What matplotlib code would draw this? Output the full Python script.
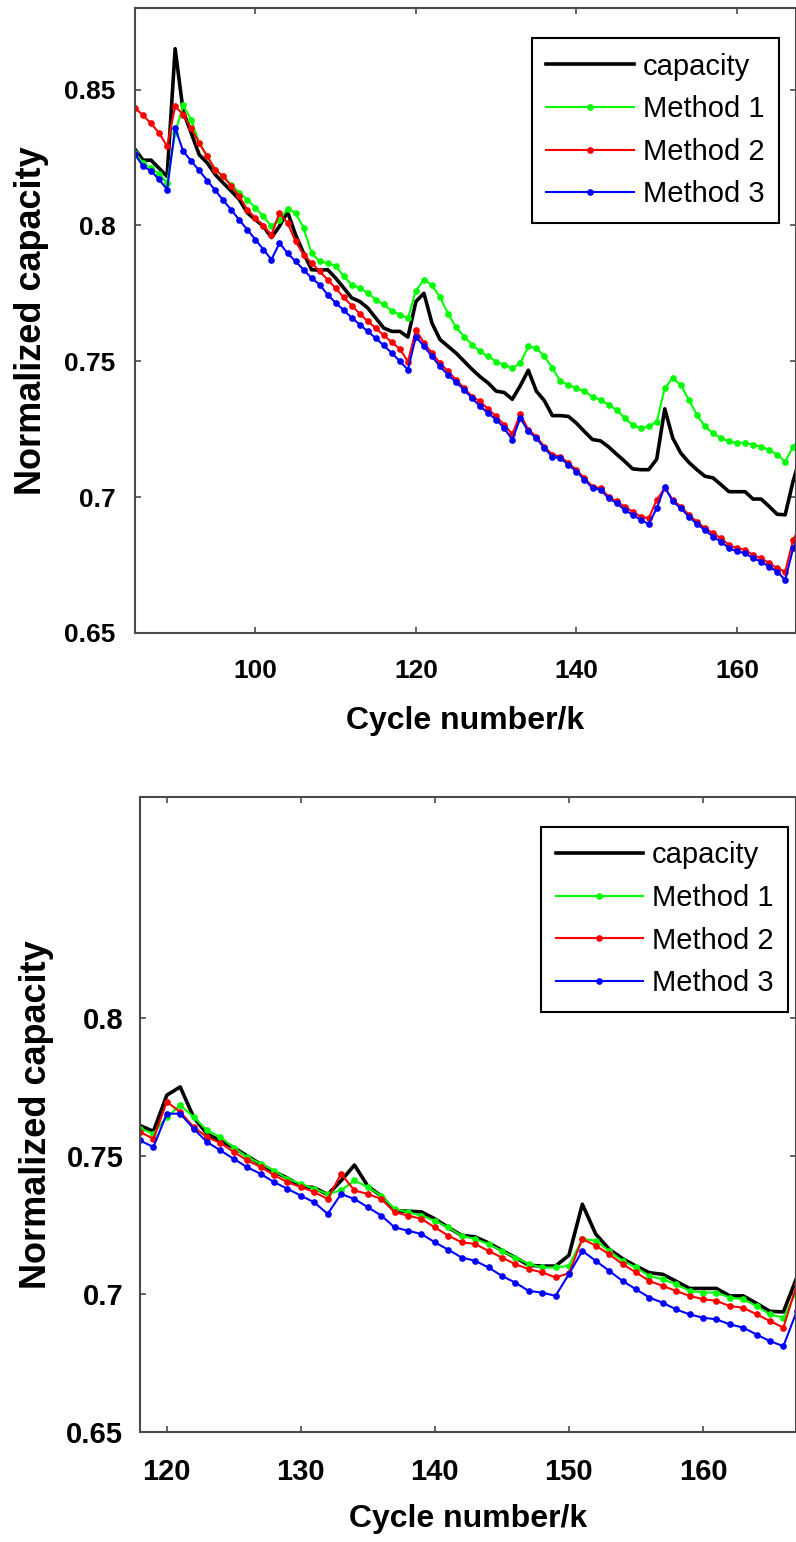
import numpy as np
import matplotlib
matplotlib.use('Agg')
import matplotlib.pyplot as plt
from matplotlib.ticker import FuncFormatter

plt.rcParams['font.family'] = ['Liberation Sans', 'DejaVu Sans']

# cycles 85..168, one point per cycle
cycles = np.arange(85, 169)

capacity = [0.828, 0.824, 0.824, 0.821, 0.818, 0.865, 0.842, 0.834, 0.826, 0.823,
            0.8187, 0.8156, 0.8126, 0.8095, 0.8046, 0.8021, 0.7997, 0.7955, 0.7997, 0.805,
            0.7966, 0.7898, 0.7837, 0.7835, 0.7837, 0.7806, 0.777, 0.7733, 0.772, 0.7696,
            0.7659, 0.7622, 0.761, 0.761, 0.7589, 0.772, 0.775, 0.764, 0.758, 0.7555,
            0.753, 0.750, 0.747, 0.7443, 0.742, 0.739, 0.7385, 0.736, 0.741, 0.7467,
            0.739, 0.7355, 0.730, 0.730, 0.7297, 0.7272, 0.7241, 0.7212, 0.7207, 0.7185,
            0.7158, 0.7132, 0.7104, 0.7101, 0.7101, 0.714, 0.7325, 0.7217, 0.7162, 0.7128,
            0.7101, 0.7077, 0.7071, 0.7046, 0.702, 0.702, 0.702, 0.6993, 0.6993, 0.6966,
            0.6937, 0.6935, 0.706, 0.716]

method1_a = [0.8267, 0.823, 0.821, 0.819, 0.8156, 0.834, 0.8442, 0.8389, 0.8303, 0.8254,
             0.8205, 0.818, 0.815, 0.812, 0.8095, 0.8064, 0.8033, 0.7997, 0.8021, 0.806,
             0.8046, 0.7991, 0.7898, 0.7868, 0.7862, 0.785, 0.7813, 0.7782, 0.777, 0.7751,
             0.7727, 0.7709, 0.7684, 0.7672, 0.7659, 0.776, 0.780, 0.778, 0.7735, 0.7675,
             0.7625, 0.7591, 0.7561, 0.7536, 0.7518, 0.7499, 0.7487, 0.7475, 0.7493, 0.7555,
             0.7548, 0.7518, 0.7475, 0.7426, 0.7413, 0.7401, 0.7389, 0.737, 0.7358, 0.734,
             0.7321, 0.7291, 0.7266, 0.7254, 0.726, 0.7278, 0.7401, 0.7438, 0.7413, 0.7358,
             0.7303, 0.726, 0.7235, 0.7217, 0.7205, 0.7199, 0.7201, 0.7192, 0.7186, 0.7174,
             0.7156, 0.7131, 0.7186, 0.722]

method2_a = [0.8432, 0.8405, 0.8375, 0.834, 0.8291, 0.8438, 0.8408, 0.8358, 0.8303, 0.8254,
             0.8205, 0.818, 0.8144, 0.8107, 0.8058, 0.8027, 0.7997, 0.7966, 0.8046, 0.8009,
             0.7941, 0.7892, 0.7862, 0.7831, 0.780, 0.7769, 0.7735, 0.7705, 0.7675, 0.7647,
             0.7622, 0.7595, 0.757, 0.7545, 0.7499, 0.7616, 0.7567, 0.753, 0.7493, 0.7463,
             0.7432, 0.7401, 0.737, 0.7352, 0.7324, 0.7297, 0.7266, 0.7232, 0.7305, 0.7248,
             0.7223, 0.7186, 0.7156, 0.7149, 0.7125, 0.710, 0.707, 0.7039, 0.7033, 0.7002,
             0.6984, 0.6965, 0.6947, 0.6928, 0.6922, 0.699, 0.7033, 0.699, 0.6965, 0.6935,
             0.691, 0.6886, 0.6867, 0.6849, 0.6824, 0.6812, 0.6806, 0.6787, 0.6775, 0.6757,
             0.6738, 0.6726, 0.6843, 0.690]

method3_a = [0.8261, 0.8218, 0.820, 0.8169, 0.8132, 0.8359, 0.8273, 0.8237, 0.8202, 0.8165,
             0.8129, 0.8092, 0.8057, 0.802, 0.7984, 0.7948, 0.7911, 0.7874, 0.7935, 0.7898,
             0.7868, 0.7837, 0.7806, 0.7782, 0.7745, 0.7715, 0.7688, 0.766, 0.7635, 0.761,
             0.7585, 0.7558, 0.753, 0.750, 0.7469, 0.7591, 0.7555, 0.7518, 0.7481, 0.745,
             0.7423, 0.7395, 0.7364, 0.7334, 0.7309, 0.7285, 0.7254, 0.7211, 0.7291, 0.7242,
             0.7217, 0.718, 0.7149, 0.7143, 0.7119, 0.7094, 0.7064, 0.7033, 0.7027, 0.6996,
             0.6978, 0.6953, 0.6935, 0.6916, 0.6901, 0.6959, 0.7039, 0.6984, 0.6959, 0.6928,
             0.6901, 0.6879, 0.6855, 0.6836, 0.6812, 0.680, 0.6794, 0.6775, 0.6763, 0.6744,
             0.6726, 0.6695, 0.6812, 0.688]

# second run, cycles 118..168
cycles_b = np.arange(118, 169)

method1_b = [0.7599, 0.7581, 0.7641, 0.7684, 0.7641, 0.7593, 0.7568, 0.753, 0.7496, 0.7472,
             0.7447, 0.7417, 0.7399, 0.7381, 0.7362, 0.7375, 0.7411, 0.7387, 0.7356, 0.7308,
             0.7296, 0.7284, 0.7265, 0.7241, 0.7211, 0.7199, 0.7181, 0.7156, 0.7132, 0.7108,
             0.7096, 0.7096, 0.7102, 0.7199, 0.7193, 0.7156, 0.712, 0.7096, 0.7065, 0.7053,
             0.7035, 0.7011, 0.7005, 0.7005, 0.6987, 0.6981, 0.6956, 0.6926, 0.6914, 0.701,
             0.710]

method2_b = [0.7587, 0.7562, 0.7696, 0.7659, 0.7605, 0.7568, 0.7547, 0.7514, 0.7484, 0.746,
             0.743, 0.7405, 0.7387, 0.7369, 0.7344, 0.7435, 0.7375, 0.7362, 0.7344, 0.7296,
             0.7284, 0.7272, 0.7241, 0.7211, 0.7187, 0.7181, 0.7156, 0.7132, 0.7108, 0.709,
             0.7078, 0.706, 0.7075, 0.7199, 0.7175, 0.7144, 0.7108, 0.7078, 0.7047, 0.7029,
             0.7011, 0.6993, 0.6981, 0.6975, 0.6956, 0.695, 0.6926, 0.6902, 0.6878, 0.7035,
             0.712]

method3_b = [0.7556, 0.7532, 0.7653, 0.7653, 0.7599, 0.755, 0.752, 0.7489, 0.7459, 0.7435,
             0.7405, 0.7381, 0.7356, 0.7332, 0.729, 0.7362, 0.7344, 0.7314, 0.7284, 0.7241,
             0.7229, 0.7217, 0.7187, 0.716, 0.7132, 0.712, 0.7096, 0.7065, 0.7041, 0.7011,
             0.7005, 0.6993, 0.7072, 0.7156, 0.712, 0.7084, 0.7047, 0.7017, 0.6987, 0.6968,
             0.6944, 0.6926, 0.6914, 0.6908, 0.689, 0.6878, 0.6853, 0.6829, 0.6811, 0.6938,
             0.703]

labels = ['capacity', 'Method 1', 'Method 2', 'Method 3']
colors = ['black', '#00ff00', '#ff0000', '#0000ff']

W, H = 796, 1542
fig = plt.figure(figsize=(W / 100, H / 100), dpi=100)
ax1 = fig.add_axes([135 / W, 1 - 633 / H, 661 / W, 625 / H])
ax2 = fig.add_axes([140 / W, 1 - 1432 / H, 656 / W, 635 / H])

fmt = FuncFormatter(lambda v, p: '%g' % round(v, 3))


def draw(ax, x, cap, m1, m2, m3, xlim, xticks, yticks, tick_fs, xpad, ypad, xlp, ylp, anchor):
    ax.plot(x, cap, color=colors[0], lw=2.6, label=labels[0])
    for ys, c, lab in zip([m1, m2, m3], colors[1:], labels[1:]):
        ax.plot(x, ys, color=c, lw=1.5, marker='o', ms=3.8, mec=c, label=lab)
    ax.set_xlim(*xlim)
    ax.set_ylim(0.65, 0.88)
    ax.set_xticks(xticks)
    ax.set_yticks(yticks)
    ax.yaxis.set_major_formatter(fmt)
    for s in ax.spines.values():
        s.set_color('#4a4a4a')
        s.set_linewidth(1.5)
    ax.tick_params(axis='both', direction='in', top=True, right=True, length=4,
                   width=1.2, color='#4a4a4a', labelsize=tick_fs)
    ax.tick_params(axis='x', pad=xpad)
    ax.tick_params(axis='y', pad=ypad)
    for t in ax.get_xticklabels() + ax.get_yticklabels():
        t.set_fontweight('bold')
    ax.set_xlabel('Cycle number/k', fontsize=23, fontweight='bold', labelpad=xlp)
    ax.set_ylabel('Normalized capacity', fontsize=26, fontweight='bold', labelpad=ylp)
    leg = ax.legend(loc='upper right', bbox_to_anchor=anchor, borderaxespad=0,
                    fontsize=21, fancybox=False, framealpha=1, edgecolor='black',
                    handlelength=3.0, handletextpad=0.3, labelspacing=0.5,
                    borderpad=0.5)
    leg.get_frame().set_linewidth(1.5)


draw(ax1, cycles, capacity, method1_a, method2_a, method3_a,
     (85, 167.35), [100, 120, 140, 160], [0.65, 0.7, 0.75, 0.8, 0.85],
     19, 19, 14, 16, 11, (0.974, 0.952))

cap_b = capacity[list(cycles).index(118):]
draw(ax2, cycles_b, cap_b, method1_b, method2_b, method3_b,
     (118, 166.94), [120, 130, 140, 150, 160], [0.65, 0.7, 0.75, 0.8],
     21, 19, 12, 13, 9, (0.988, 0.953))

fig.savefig('out.png', dpi=100)
